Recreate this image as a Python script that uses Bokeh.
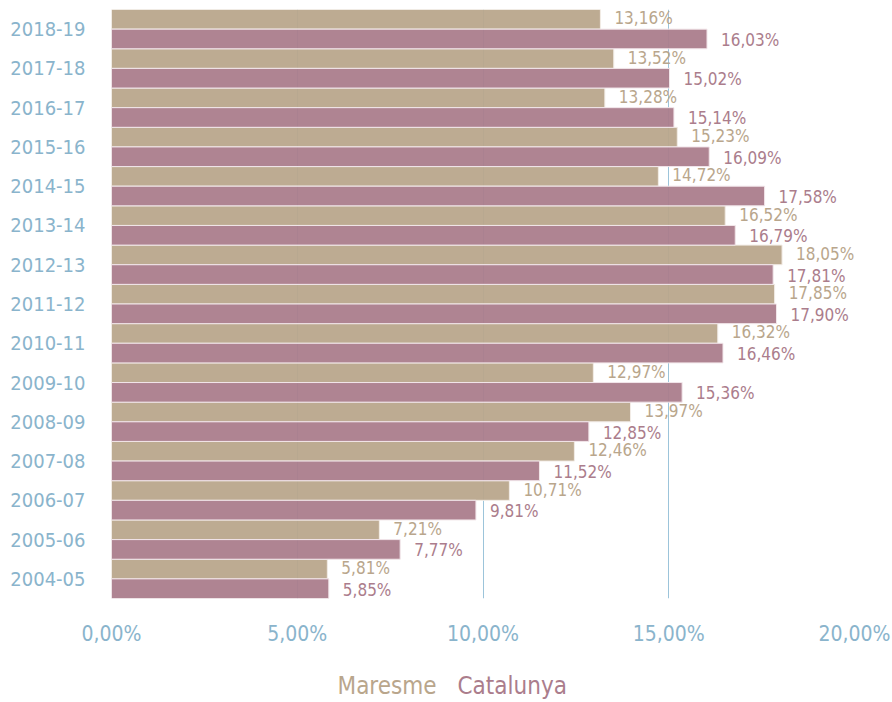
from bokeh.plotting import figure
from bokeh.layouts import column
from bokeh.models import ColumnDataSource, FactorRange, Range1d, FixedTicker, CustomJSTickFormatter
from bokeh.transform import dodge
from bokeh.core.properties import value
from bokeh.embed import file_html
from bokeh.resources import INLINE

years = ["2018-19", "2017-18", "2016-17", "2015-16", "2014-15", "2013-14", "2012-13",
         "2011-12", "2010-11", "2009-10", "2008-09", "2007-08", "2006-07", "2005-06", "2004-05"]
maresme = [13.16, 13.52, 13.28, 15.23, 14.72, 16.52, 18.05, 17.85, 16.32, 12.97, 13.97, 12.46, 10.71, 7.21, 5.81]
catalunya = [16.03, 15.02, 15.14, 16.09, 17.58, 16.79, 17.81, 17.90, 16.46, 15.36, 12.85, 11.52, 9.81, 7.77, 5.85]
x_ticks = [0, 5, 10, 15, 20]
series_names = ["Maresme", "Catalunya"]

TAN = "#b9a68c"
MAUVE = "#ab7d8c"
BLUE = "#8ab4cc"
GRID = "#9cc4da"
FONT = "'Liberation Sans Narrow', 'Arial Narrow', 'DejaVu Sans Condensed', 'Liberation Sans', sans-serif"


def fmt(v):
    return ("%.2f" % v).replace(".", ",") + "%"


src = ColumnDataSource(dict(
    year=years, m=maresme, c=catalunya,
    ml=[fmt(v) for v in maresme], cl=[fmt(v) for v in catalunya],
))

W = 892
BL, BR = 111, 38
p = figure(width=W, height=648, output_backend="svg", toolbar_location=None,
           y_range=FactorRange(factors=years[::-1], range_padding=0),
           x_range=Range1d(0, 20),
           min_border_left=BL, min_border_right=BR, min_border_top=9, min_border_bottom=48)
p.outline_line_color = None
p.background_fill_color = "white"
p.border_fill_color = "white"

p.hbar(y=dodge("year", 0.25, range=p.y_range), right="m", left=0, height=0.5, source=src,
       fill_color=TAN, fill_alpha=0.95, line_color="#f2ece6", line_width=1)
p.hbar(y=dodge("year", -0.25, range=p.y_range), right="c", left=0, height=0.5, source=src,
       fill_color=MAUVE, fill_alpha=0.95, line_color="#f2e6ea", line_width=1)

p.text(x="m", y=dodge("year", 0.25, range=p.y_range), text="ml", source=src,
       x_offset=14, y_offset=-1, text_align="left", text_baseline="middle",
       text_font=value(FONT), text_font_size="17px", text_color=TAN)
p.text(x="c", y=dodge("year", -0.25, range=p.y_range), text="cl", source=src,
       x_offset=14, y_offset=1, text_align="left", text_baseline="middle",
       text_font=value(FONT), text_font_size="17px", text_color=MAUVE)

p.xaxis.ticker = FixedTicker(ticks=x_ticks)
p.xaxis.formatter = CustomJSTickFormatter(code="return tick.toFixed(2).replace('.', ',') + '%';")
for ax in (p.xaxis[0], p.yaxis[0]):
    ax.axis_line_color = None
    ax.major_tick_line_color = None
    ax.minor_tick_line_color = None
    ax.major_label_text_color = BLUE
    ax.major_label_text_font = FONT
p.xaxis.major_label_text_font_size = "21px"
p.yaxis.major_label_text_font_size = "20px"
p.xaxis.major_label_standoff = 17
p.yaxis.major_label_standoff = 20

p.ygrid.grid_line_color = None
p.xgrid.ticker = FixedTicker(ticks=x_ticks[1:])
p.xgrid.grid_line_color = GRID
p.xgrid.grid_line_width = 1

# legend strip (text only, coloured per series); its frame is aligned with the main frame,
# so its x range is expressed in page pixels
LH = 702 - 648
leg = figure(width=W, height=LH, output_backend="svg", toolbar_location=None,
             x_range=Range1d(BL, W - BR), y_range=Range1d(0, LH),
             min_border_left=BL, min_border_right=BR, min_border_top=0, min_border_bottom=0,
             outline_line_color=None)
leg.axis.visible = False
leg.grid.visible = False
leg_src = ColumnDataSource(dict(x=[337, 457], y=[17, 17], t=series_names, col=[TAN, MAUVE]))
leg.text(x="x", y="y", text="t", text_color="col", source=leg_src,
         text_font=value(FONT), text_font_size="24px", text_baseline="alphabetic", text_align="left")

open("out.html", "w").write(file_html(column(p, leg, spacing=0), INLINE))
